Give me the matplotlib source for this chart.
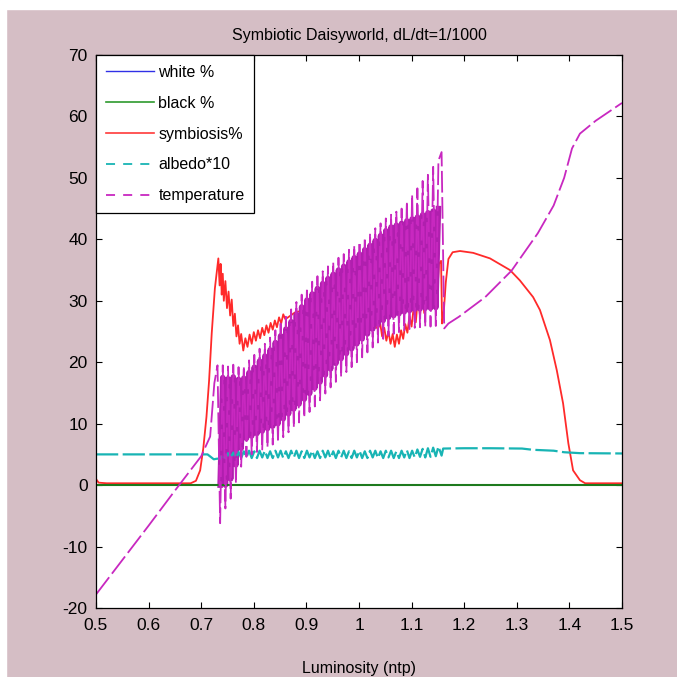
import matplotlib
matplotlib.use("Agg")
import matplotlib.pyplot as plt
from matplotlib.patches import Rectangle
from matplotlib.lines import Line2D

plt.rcParams['font.family'] = ['Liberation Sans', 'DejaVu Sans']
plt.rcParams['axes.unicode_minus'] = False
plt.rcParams['path.simplify'] = False

# ---- data ----
# slow parts before / after the oscillating stretch
temp_L_pre = [0.50, 0.55, 0.60, 0.65, 0.70, 0.717, 0.725, 0.731]
temp_pre = [-17.8, -12.2, -6.6, -0.9, 4.7, 7.9, 16.6, 19.5]
temp_L_post = [1.157, 1.162, 1.17, 1.19, 1.24, 1.29, 1.34, 1.37, 1.39, 1.405, 1.42, 1.45, 1.50]
temp_post = [54.2, 25.5, 26.3, 27.4, 30.6, 34.9, 41.0, 45.5, 50.0, 54.8, 57.2, 59.3, 62.2]

# oscillation: troughs and peaks
trough_L = [0.736, 0.746, 0.756, 0.766, 0.776, 0.786, 0.796, 0.806, 0.816, 0.826,
            0.836, 0.846, 0.856, 0.866, 0.876, 0.886, 0.896, 0.906, 0.916, 0.926,
            0.936, 0.946, 0.956, 0.966, 0.976, 0.986, 0.996, 1.006, 1.016, 1.026,
            1.036, 1.046, 1.056, 1.066, 1.076, 1.086, 1.096, 1.106, 1.116, 1.126,
            1.136, 1.146]
peak_L = [0.741, 0.751, 0.761, 0.771, 0.781, 0.791, 0.801, 0.811, 0.821, 0.831,
          0.841, 0.851, 0.861, 0.871, 0.881, 0.891, 0.901, 0.911, 0.921, 0.931,
          0.941, 0.951, 0.961, 0.971, 0.981, 0.991, 1.001, 1.011, 1.021, 1.031,
          1.041, 1.051, 1.061, 1.071, 1.081, 1.091, 1.101, 1.111, 1.121, 1.131,
          1.141, 1.151]
temp_troughs = [-6.2, -3.8, -2.2, 0.3, 3.0, 4.6, 5.0, 5.4, 5.8, 6.2,
                6.6, 7.0, 7.8, 8.6, 9.4, 10.2, 11.0, 11.9, 12.8, 13.8,
                14.9, 15.9, 16.8, 17.6, 18.4, 19.2, 20.0, 20.8, 21.6, 22.4,
                23.2, 23.8, 24.3, 24.6, 24.9, 25.2, 25.4, 25.6, 25.7, 25.8,
                25.8, 25.9]
temp_peaks = [19.5, 19.3, 19.6, 19.2, 19.4, 20.3, 21.2, 22.2, 23.0, 24.0,
              25.2, 26.3, 27.4, 28.6, 29.8, 31.0, 32.1, 33.1, 34.0, 34.8,
              35.6, 36.3, 37.0, 37.6, 38.3, 39.0, 39.6, 40.3, 41.0, 41.8,
              42.6, 43.4, 44.0, 44.5, 45.0, 46.2, 47.3, 48.3, 49.5, 50.5,
              51.8, 52.8]
white_troughs = [0.0, 0.0, 1.0, 3.3, 6.0, 7.6, 8.0, 8.4, 8.8, 9.2,
                 9.6, 10.0, 10.8, 11.6, 12.4, 13.2, 14.0, 14.9, 15.8, 16.8,
                 17.9, 18.9, 19.8, 20.6, 21.4, 22.2, 23.0, 23.8, 24.6, 25.4,
                 26.2, 26.8, 27.3, 27.6, 27.9, 28.2, 28.4, 28.6, 28.7, 28.8,
                 28.8, 28.9]
white_peaks = [17.5, 17.3, 17.6, 17.2, 17.4, 18.3, 19.2, 20.2, 21.0, 22.0,
               23.2, 24.3, 25.4, 26.6, 27.8, 29.0, 30.1, 31.1, 32.0, 32.8,
               33.6, 34.3, 35.0, 35.6, 36.3, 37.0, 37.6, 38.3, 39.0, 39.8,
               40.6, 41.4, 42.0, 42.3, 42.6, 43.0, 43.3, 43.6, 44.0, 44.3,
               44.6, 45.0]
albedo_lo = [4.3, 4.4, 4.5, 4.4, 4.4, 4.5, 4.4, 4.4, 4.5, 4.4,
             4.4, 4.5, 4.4, 4.4, 4.5, 4.4, 4.4, 4.5, 4.4, 4.4,
             4.5, 4.4, 4.4, 4.5, 4.4, 4.4, 4.5, 4.4, 4.4, 4.5,
             4.4, 4.4, 4.5, 4.4, 4.4, 4.5, 4.4, 4.5, 4.6, 4.5,
             4.6, 4.7]
albedo_hi = [5.0, 5.2, 5.3, 5.4, 5.5, 5.6, 5.5, 5.6, 5.6, 5.5,
             5.6, 5.6, 5.5, 5.6, 5.6, 5.5, 5.6, 5.6, 5.5, 5.6,
             5.6, 5.5, 5.6, 5.6, 5.5, 5.6, 5.6, 5.5, 5.6, 5.6,
             5.5, 5.6, 5.6, 5.5, 5.6, 5.7, 5.6, 5.8, 5.9, 6.0,
             6.1, 6.3]

albedo_L_pre = [0.50, 0.60, 0.70, 0.712, 0.718, 0.724, 0.730]
albedo_pre = [5.0, 5.0, 5.0, 5.0, 4.6, 4.2, 4.3]
albedo_L_post = [1.157, 1.160, 1.20, 1.25, 1.31, 1.33, 1.37, 1.39, 1.42, 1.50]
albedo_post = [4.8, 5.95, 6.0, 6.0, 5.95, 5.75, 5.6, 5.35, 5.2, 5.15]

black_L = [0.50, 1.50]
black = [0.0, 0.0]

symb_L = [0.50, 0.505, 0.52, 0.60, 0.68, 0.69, 0.698, 0.704, 0.710, 0.715, 0.720, 0.726, 0.7326,
          0.735, 0.737, 0.739, 0.741, 0.743, 0.746, 0.749, 0.752, 0.755, 0.758, 0.761, 0.764,
          0.767, 0.770, 0.773, 0.776, 0.780, 0.784, 0.788, 0.792, 0.796, 0.800, 0.804, 0.808,
          0.812, 0.816, 0.820, 0.824, 0.828, 0.832, 0.836, 0.840, 0.844, 0.848, 0.852, 0.856,
          0.860, 0.88, 0.92, 0.96, 1.00, 1.03, 1.036, 1.040, 1.044, 1.048, 1.052, 1.056, 1.060,
          1.064, 1.068, 1.072, 1.076, 1.080, 1.084, 1.088, 1.092, 1.096, 1.100, 1.104, 1.108,
          1.112, 1.116, 1.120, 1.124, 1.128, 1.132, 1.136, 1.140, 1.144, 1.148, 1.152, 1.156,
          1.158, 1.161, 1.165, 1.170, 1.178, 1.192, 1.217, 1.249, 1.287, 1.306, 1.331, 1.344,
          1.363, 1.376, 1.388, 1.398, 1.407, 1.420, 1.430, 1.50]
symb = [1.0, 0.4, 0.3, 0.3, 0.3, 0.7, 2.4, 6.0, 11.1, 17.0, 24.7, 32.0, 36.9,
        32.5, 36.0, 31.0, 34.4, 30.0, 33.2, 28.8, 31.5, 27.6, 30.2, 25.9, 27.9,
        24.2, 26.0, 23.0, 24.6, 21.9, 23.9, 22.5, 24.5, 23.0, 24.9, 23.5, 25.2,
        23.9, 25.6, 24.4, 26.0, 24.8, 26.4, 25.3, 26.8, 25.7, 27.3, 26.3, 27.8,
        27.0, 28.2, 28.6, 28.6, 28.2, 26.0, 25.4, 26.5, 24.2, 25.6, 23.5, 25.0, 23.0,
        24.6, 22.5, 24.5, 23.0, 25.2, 23.8, 26.2, 24.8, 27.5, 25.8, 29.0, 26.5,
        30.5, 27.5, 31.8, 28.0, 33.0, 29.0, 34.0, 29.5, 35.0, 30.0, 36.0, 36.5,
        26.3, 28.0, 33.0, 36.8, 37.9, 38.1, 37.8, 36.9, 35.0, 33.3, 30.6, 28.5,
        23.6, 18.7, 13.3, 6.8, 2.4, 0.8, 0.3, 0.3]

assert len(symb_L) == len(symb)
for arr in (peak_L, temp_troughs, temp_peaks, white_troughs, white_peaks, albedo_lo, albedo_hi):
    assert len(arr) == len(trough_L), len(arr)

# stitch troughs/peaks into one path per series
osc_L = [v for pair in zip(trough_L, peak_L) for v in pair]
temp_osc = [v for pair in zip(temp_troughs, temp_peaks) for v in pair]
white_osc = [v for pair in zip(white_troughs, white_peaks) for v in pair]
albedo_osc = [v for pair in zip(albedo_lo, albedo_hi) for v in pair]

temp_L = temp_L_pre + osc_L + temp_L_post
temp = temp_pre + temp_osc + temp_post
albedo_L = albedo_L_pre + osc_L + albedo_L_post
albedo = albedo_pre + albedo_osc + albedo_post

# ---- figure ----
fig = plt.figure(figsize=(6.77, 6.77), dpi=100, facecolor='#d5bec5')
fig.patches.append(Rectangle((0, 1 - 9 / 677), 1, 9 / 677, transform=fig.transFigure,
                             color='white', zorder=-1))
fig.patches.append(Rectangle((0, 0), 6 / 677, 1, transform=fig.transFigure,
                             color='white', zorder=-1))
ax = fig.add_axes([96 / 677, 1 - 608 / 677, 526 / 677, 553 / 677])

ax.plot(symb_L, symb, color='#ff2a2a', lw=1.3, zorder=1.9)
ax.plot(osc_L, white_osc, color='#b01fae', lw=4.0, zorder=2.0)
ax.plot(black_L, black, color='#1e7a1e', lw=1.5, zorder=2.1)
ax.plot(albedo_L, albedo, color='#18b4b4', lw=1.6, dashes=(10, 2), zorder=2.2)
ax.plot(temp_L, temp, color='#c828c0', lw=1.3, dashes=(12, 2.5), zorder=2.3)

ax.set_xlim(0.5, 1.5)
ax.set_ylim(-20, 70)
ax.set_xticks([0.5, 0.6, 0.7, 0.8, 0.9, 1.0, 1.1, 1.2, 1.3, 1.4, 1.5])
ax.set_xticklabels(['0.5', '0.6', '0.7', '0.8', '0.9', '1', '1.1', '1.2', '1.3', '1.4', '1.5'])
ax.set_yticks(range(-20, 71, 10))
ax.tick_params(direction='in', length=4.5, width=0.8, top=True, right=True,
               labelsize=12.5, pad=6)
ax.tick_params(axis='x', pad=7)
for s in ax.spines.values():
    s.set_linewidth(0.9)

ax.set_title('Symbiotic Daisyworld, dL/dt=1/1000', fontsize=11.5, pad=11)
ax.set_xlabel('Luminosity (ntp)', fontsize=11.5, labelpad=20)

# legend entries styled as in the source figure
handles = [Line2D([], [], color='#3030e6', lw=1.0),
           Line2D([], [], color='#2e9a2e', lw=1.2),
           Line2D([], [], color='#ff3a3a', lw=1.2),
           Line2D([], [], color='#18b4b4', lw=1.3, dashes=(5, 4.5)),
           Line2D([], [], color='#c828c0', lw=1.3, dashes=(5, 4.5))]
leg = ax.legend(handles,
                ['white %', 'black %', 'symbiosis%', 'albedo*10', 'temperature'],
                loc='upper left', borderaxespad=0, fancybox=False, framealpha=1,
                edgecolor='black', fontsize=11.5, handlelength=3.0, handletextpad=0.3,
                labelspacing=1.0, borderpad=0.6)
leg.get_frame().set_linewidth(0.9)
leg.set_zorder(5)

fig.savefig('out.png', dpi=100, facecolor=fig.get_facecolor())
